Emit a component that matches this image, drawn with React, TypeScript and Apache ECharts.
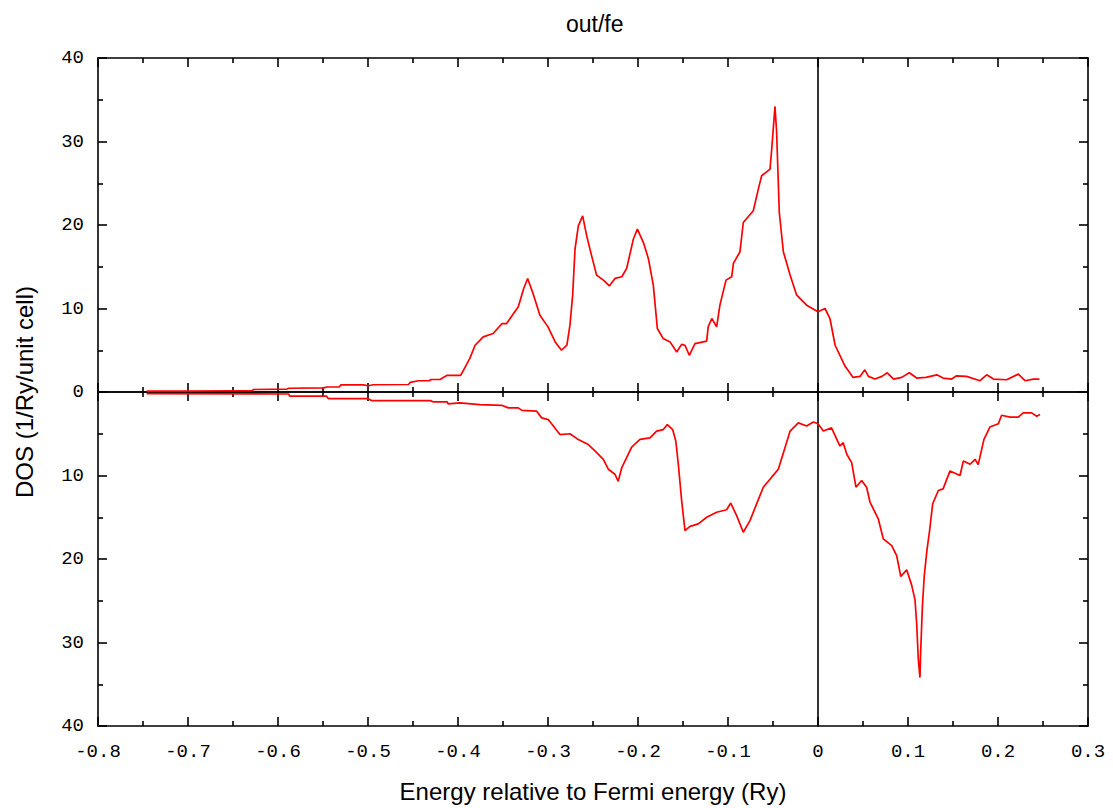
import React, { useEffect, useRef } from "react";
import * as echarts from "echarts";

const titleText = "out/fe";
const xName = "Energy relative to Fermi energy (Ry)";
const yName = "DOS (1/Ry/unit cell)";

// Spin-up DOS (plotted upward)
const upEnergy = [
  -0.746, -0.70, -0.65, -0.629, -0.627, -0.59, -0.588, -0.55, -0.545, -0.532,
  -0.530, -0.505, -0.500, -0.494, -0.455, -0.453, -0.444, -0.432, -0.430, -0.420,
  -0.412, -0.397, -0.387, -0.381, -0.372, -0.361, -0.351, -0.346, -0.333, -0.327,
  -0.3226, -0.316, -0.309, -0.300, -0.292, -0.285, -0.279, -0.2756, -0.2726, -0.270,
  -0.2663, -0.2615, -0.257, -0.2515, -0.246, -0.2385, -0.2318, -0.2256, -0.218, -0.2126,
  -0.2052, -0.2007, -0.194, -0.1885, -0.183, -0.1785, -0.172, -0.1644, -0.157, -0.1515,
  -0.1478, -0.143, -0.1367, -0.1237, -0.122, -0.118, -0.1126, -0.109, -0.1022, -0.0959,
  -0.094, -0.0867, -0.083, -0.0719, -0.0663, -0.0626, -0.0533, -0.0515, -0.0478, -0.046,
  -0.043, -0.0385, -0.031, -0.0237, -0.0126, 0.0, 0.0078, 0.0133, 0.019, 0.030,
  0.039, 0.0467, 0.052, 0.056, 0.0633, 0.071, 0.077, 0.084, 0.093, 0.1015,
  0.1096, 0.120, 0.132, 0.139, 0.1485, 0.154, 0.165, 0.180, 0.1874, 0.195,
  0.2096, 0.2226, 0.230, 0.2393, 0.246,
];
const upDos = [
  0.1, 0.1, 0.15, 0.15, 0.3, 0.35, 0.45, 0.5, 0.6, 0.6,
  0.85, 0.85, 0.75, 0.87, 0.9, 1.15, 1.35, 1.35, 1.5, 1.5,
  2.0, 2.0, 4.0, 5.6, 6.6, 7.0, 8.2, 8.2, 10.2, 12.4,
  13.6, 11.6, 9.2, 7.8, 6.0, 5.0, 5.6, 8.0, 11.6, 17.1,
  19.9, 21.1, 18.7, 16.3, 14.0, 13.4, 12.7, 13.6, 13.8, 14.8,
  18.3, 19.5, 17.9, 16.0, 12.8, 7.6, 6.4, 6.0, 4.8, 5.7,
  5.6, 4.4, 5.8, 6.1, 7.8, 8.8, 7.8, 10.4, 13.4, 13.8,
  15.4, 16.8, 20.3, 21.7, 24.3, 25.9, 26.7, 29.0, 34.2, 31.2,
  21.5, 16.8, 14.0, 11.6, 10.4, 9.6, 10.0, 8.8, 5.6, 3.1,
  1.75, 1.87, 2.65, 1.87, 1.55, 1.87, 2.3, 1.55, 1.75, 2.3,
  1.67, 1.75, 2.06, 1.67, 1.55, 1.94, 1.87, 1.35, 2.06, 1.55,
  1.47, 2.14, 1.35, 1.55, 1.55,
];

// Spin-down DOS (plotted downward)
const dnEnergy = [
  -0.746, -0.588, -0.587, -0.546, -0.544, -0.500, -0.496, -0.431, -0.427, -0.412,
  -0.411, -0.398, -0.3756, -0.3515, -0.344, -0.333, -0.329, -0.3126, -0.307, -0.2997,
  -0.2867, -0.2756, -0.2663, -0.2552, -0.2478, -0.244, -0.2385, -0.233, -0.2256, -0.222,
  -0.218, -0.2126, -0.207, -0.1978, -0.1867, -0.1793, -0.1719, -0.1674, -0.1615, -0.158,
  -0.1552, -0.1515, -0.1478, -0.1422, -0.133, -0.1237, -0.1126, -0.1015, -0.097, -0.0904,
  -0.083, -0.0756, -0.0682, -0.0608, -0.0515, -0.0441, -0.0367, -0.031, -0.0219, -0.0126,
  -0.0052, 0.0, 0.006, 0.015, 0.0244, 0.028, 0.032, 0.0374, 0.0422, 0.0485,
  0.054, 0.0578, 0.067, 0.0726, 0.0819, 0.0874, 0.092, 0.0985, 0.104, 0.1078,
  0.1096, 0.1115, 0.1133, 0.114, 0.116, 0.118, 0.121, 0.124, 0.1274, 0.1337,
  0.139, 0.1467, 0.1578, 0.1615, 0.169, 0.1745, 0.178, 0.1844, 0.191, 0.2004,
  0.204, 0.2133, 0.2226, 0.228, 0.2374, 0.243, 0.2467,
];
const dnDos = [
  -0.2, -0.24, -0.5, -0.5, -0.8, -0.8, -1.03, -1.03, -1.19, -1.19,
  -1.43, -1.3, -1.51, -1.59, -1.9, -1.9, -2.2, -2.3, -3.1, -3.3,
  -5.1, -5.0, -5.7, -6.3, -7.06, -7.46, -8.06, -9.25, -9.85, -10.7,
  -9.05, -7.86, -6.6, -5.68, -5.5, -4.68, -4.5, -3.9, -4.5, -5.87,
  -8.65, -13.0, -16.6, -16.1, -15.8, -15.0, -14.4, -14.1, -13.3, -14.8,
  -16.8, -15.4, -13.4, -11.4, -10.2, -9.25, -6.67, -4.68, -3.7, -4.08,
  -3.6, -3.8, -4.68, -4.3, -6.47, -6.07, -7.46, -8.45, -11.4, -10.6,
  -11.4, -13.2, -15.2, -17.6, -18.4, -19.6, -22.1, -21.3, -23.1, -24.9,
  -27.7, -32.1, -34.2, -31.3, -25.7, -22.1, -19.0, -16.6, -13.4, -11.8,
  -11.6, -9.45, -10.0, -8.25, -8.65, -8.06, -8.7, -5.67, -4.2, -3.8,
  -2.78, -3.0, -3.0, -2.5, -2.5, -2.9, -2.7,
];

const xMin = -0.8;
const xMax = 0.3;
const xStep = 0.1;
const yMin = -40;
const yMax = 40;
const yStep = 10;

const BLACK = "#000000";
const LINE_RED = "#ff0000";
const TICK_FONT = "'Liberation Mono', 'DejaVu Sans Mono', monospace";
const TEXT_FONT = "'Liberation Sans', Arial, sans-serif";

export default function App() {
  const ref = useRef<HTMLDivElement | null>(null);

  useEffect(() => {
    if (!ref.current) return;
    const chart = echarts.init(ref.current, undefined, { renderer: "svg" });

    const upData = upEnergy.map((e, i) => [e, upDos[i]]);
    const dnData = dnEnergy.map((e, i) => [e, dnDos[i]]);

    const lineStyle = { color: BLACK, width: 1.6 };
    const baseX = {
      type: "value" as const,
      min: xMin,
      max: xMax,
      interval: xStep,
      splitLine: { show: false },
    };
    const baseY = {
      type: "value" as const,
      min: yMin,
      max: yMax,
      interval: yStep,
      splitLine: { show: false },
    };

    chart.setOption({
      animation: false,
      backgroundColor: "#ffffff",
      title: {
        text: titleText,
        left: 561,
        top: 7,
        textStyle: {
          fontFamily: TEXT_FONT,
          fontSize: 23,
          fontWeight: "normal",
          color: BLACK,
        },
      },
      grid: { left: 98, right: 25, top: 58, bottom: 79, show: false },
      xAxis: [
        {
          ...baseX,
          position: "bottom",
          name: xName,
          nameLocation: "middle",
          nameGap: 53,
          nameTextStyle: { fontFamily: TEXT_FONT, fontSize: 24, color: BLACK },
          axisLine: { show: true, onZero: false, lineStyle },
          axisTick: { show: true, inside: true, length: 9, lineStyle },
          minorTick: { show: true, splitNumber: 2, length: 5, lineStyle },
          axisLabel: {
            show: true,
            margin: 16,
            fontFamily: TICK_FONT,
            fontSize: 19,
            color: BLACK,
            formatter: (v: number) => (Math.abs(v) < 1e-9 ? "0" : v.toFixed(1)),
          },
        },
        {
          ...baseX,
          position: "top",
          axisLine: { show: true, onZero: false, lineStyle },
          axisTick: { show: true, inside: true, length: 9, lineStyle },
          minorTick: { show: true, splitNumber: 2, length: 5, lineStyle },
          axisLabel: { show: false },
        },
        {
          ...baseX,
          position: "bottom",
          axisLine: { show: true, onZero: true, lineStyle },
          axisTick: { show: true, inside: true, length: 9, lineStyle },
          minorTick: { show: true, splitNumber: 2, length: 5, lineStyle },
          axisLabel: { show: false },
        },
        {
          ...baseX,
          position: "bottom",
          axisLine: { show: true, onZero: true, lineStyle },
          axisTick: { show: true, inside: false, length: 9, lineStyle },
          minorTick: { show: true, splitNumber: 2, length: 5, lineStyle },
          axisLabel: { show: false },
        },
      ],
      yAxis: [
        {
          ...baseY,
          position: "left",
          name: yName,
          nameLocation: "middle",
          nameGap: 62,
          nameTextStyle: { fontFamily: TEXT_FONT, fontSize: 24, color: BLACK },
          axisLine: { show: true, onZero: false, lineStyle },
          axisTick: { show: true, inside: true, length: 9, lineStyle },
          minorTick: { show: true, splitNumber: 2, length: 5, lineStyle },
          axisLabel: {
            show: true,
            margin: 14,
            fontFamily: TICK_FONT,
            fontSize: 19,
            color: BLACK,
            formatter: (v: number) => String(Math.abs(Math.round(v))),
          },
        },
        {
          ...baseY,
          position: "right",
          axisLine: { show: true, onZero: false, lineStyle },
          axisTick: { show: true, inside: true, length: 9, lineStyle },
          minorTick: { show: true, splitNumber: 2, length: 5, lineStyle },
          axisLabel: { show: false },
        },
        {
          ...baseY,
          position: "left",
          axisLine: { show: true, onZero: true, lineStyle },
          axisTick: { show: false },
          axisLabel: { show: false },
        },
      ],
      series: [
        {
          name: "up",
          type: "line",
          xAxisIndex: 0,
          yAxisIndex: 0,
          data: upData,
          showSymbol: false,
          symbol: "none",
          lineStyle: { color: LINE_RED, width: 1.7 },
          z: 3,
        },
        {
          name: "down",
          type: "line",
          xAxisIndex: 0,
          yAxisIndex: 0,
          data: dnData,
          showSymbol: false,
          symbol: "none",
          lineStyle: { color: LINE_RED, width: 1.7 },
          z: 3,
        },
      ],
    });

    return () => {
      chart.dispose();
    };
  }, []);

  return (
    <div
      ref={ref}
      style={{ position: "absolute", left: 0, top: 0, width: 1113, height: 808, background: "#fff" }}
    />
  );
}
